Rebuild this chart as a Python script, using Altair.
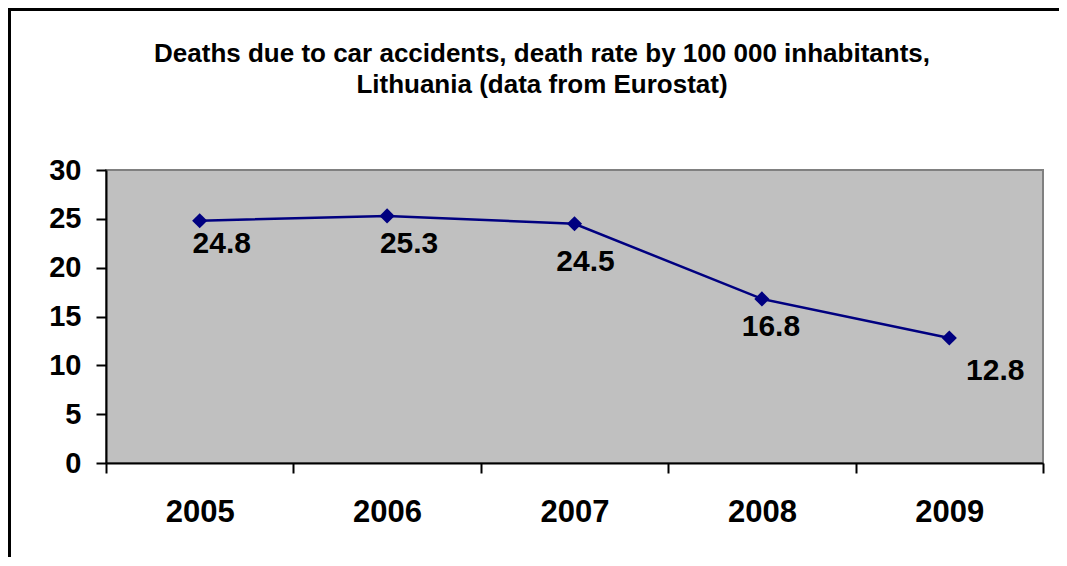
import altair as alt
import pandas as pd

years = ["2005", "2006", "2007", "2008", "2009"]
rates = [24.8, 25.3, 24.5, 16.8, 12.8]
y_ticks = [0, 5, 10, 15, 20, 25, 30]
title_lines = [
    "Deaths due to car accidents, death rate by 100 000 inhabitants,",
    "Lithuania (data from Eurostat)",
]

# label offsets (style) relative to each point
label_dx = [22, 22, 11, 9, 46]
label_dy = [32, 37, 47, 37, 42]

FONT = "Liberation Sans"
df = pd.DataFrame({"year": years, "rate": rates})

W, H = 937, 293
PAD_L, PAD_T, PAD_R, PAD_B = 98, 162, 16, 94

x_enc = alt.X(
    "year:N",
    sort=years,
    scale=alt.Scale(type="band", paddingInner=0, paddingOuter=0),
    axis=alt.Axis(
        title=None, labelAngle=0, tickBand="extent", tickSize=10, tickWidth=2,
        tickColor="black", domainColor="black", domainWidth=2,
        labelFont=FONT, labelFontSize=31, labelFontWeight="bold",
        labelColor="black", labelPadding=24, grid=False,
    ),
)
y_enc = alt.Y(
    "rate:Q",
    scale=alt.Scale(domain=[0, 30], nice=False, zero=True),
    axis=alt.Axis(
        title=None, values=y_ticks, tickSize=10, tickWidth=2, tickColor="black",
        domainColor="black", domainWidth=2, labelFont=FONT, labelFontSize=29,
        labelFontWeight="bold", labelColor="black", labelPadding=15, grid=False,
    ),
)

base = alt.Chart(df)
line = base.mark_line(color="#000080", strokeWidth=2.5).encode(x=x_enc, y=y_enc)
pts = base.mark_point(shape="diamond", filled=True, size=230, color="#000080", opacity=1).encode(x=x_enc, y=y_enc)

labels = []
for yr, dx, dy in zip(years, label_dx, label_dy):
    labels.append(
        base.transform_filter(alt.datum.year == yr)
        .mark_text(font=FONT, fontSize=30, fontWeight="bold", color="black",
                   align="center", baseline="alphabetic", dx=dx, dy=dy)
        .encode(x=x_enc, y=y_enc, text=alt.Text("rate:Q", format=".1f"))
    )

frame_df = pd.DataFrame({"a": [0]})
top_border = alt.Chart(frame_df).mark_rule(color="black", strokeWidth=3).encode(
    x=alt.value(-PAD_L), x2=alt.value(W + PAD_R), y=alt.value(-PAD_T + 1.5)
)
left_border = alt.Chart(frame_df).mark_rule(color="black", strokeWidth=3).encode(
    x=alt.value(-PAD_L + 1.5), y=alt.value(-PAD_T), y2=alt.value(H + PAD_B)
)

title_df = pd.DataFrame({"line": title_lines, "idx": [0, 1]})
title_layers = []
for i, t in enumerate(title_lines):
    title_layers.append(
        alt.Chart(title_df).transform_filter(alt.datum.idx == i)
        .mark_text(font=FONT, fontSize=26, fontWeight="bold", color="black",
                   align="center", baseline="alphabetic")
        .encode(x=alt.value(436), y=alt.value(-108 + 31 * i), text="line:N")
    )

chart = alt.layer(line, pts, *labels, top_border, left_border, *title_layers).properties(
    width=W,
    height=H,
    autosize=alt.AutoSizeParams(type="none"),
    padding={"left": PAD_L, "top": PAD_T, "right": PAD_R, "bottom": PAD_B},
    background="white",
).configure_view(
    fill="#C0C0C0", stroke="#808080", strokeWidth=2
)

chart.save("out.html", embed_options={"renderer": "svg", "actions": False})
